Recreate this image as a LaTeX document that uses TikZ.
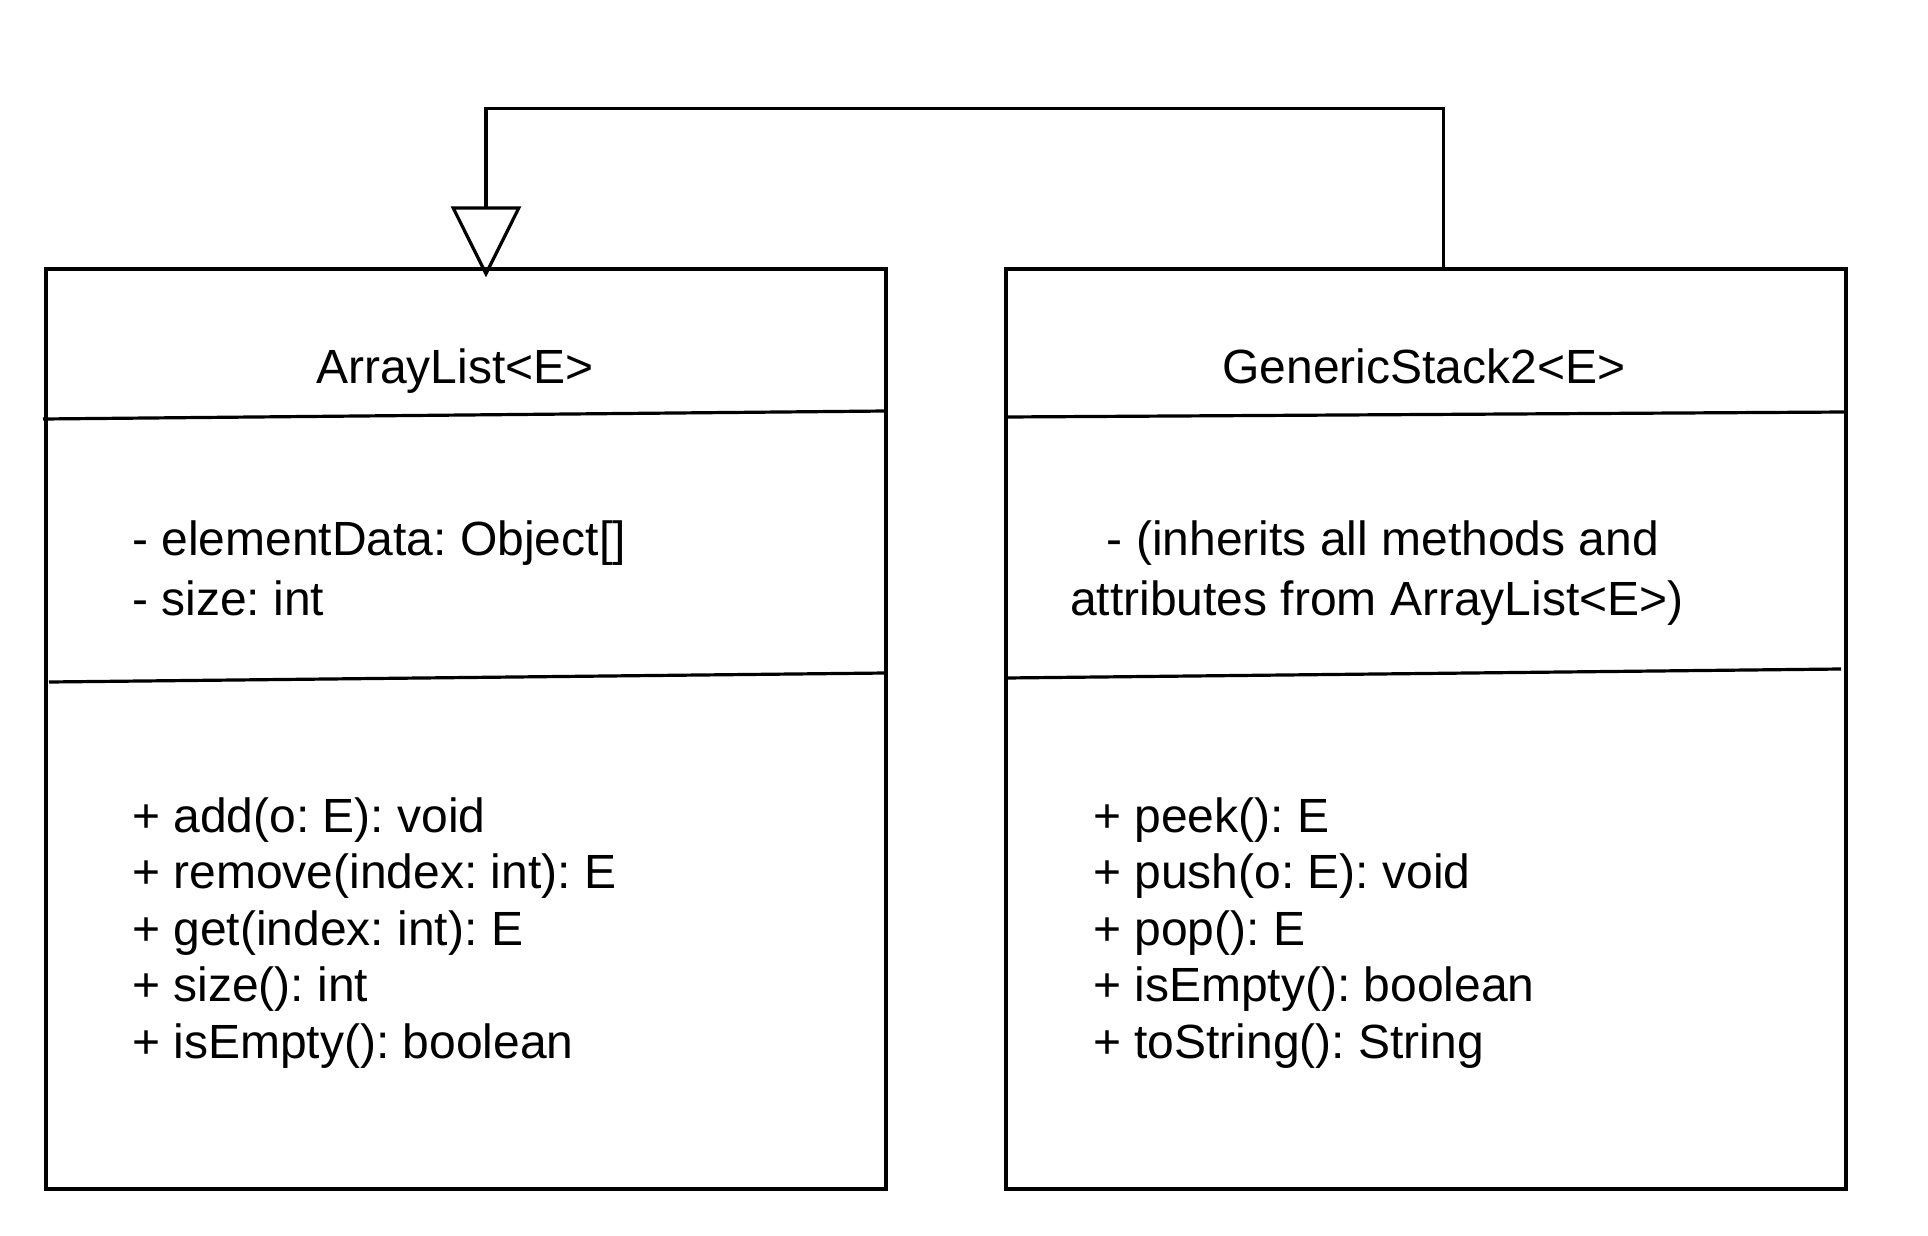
\documentclass[tikz,border=0pt]{standalone}
\usepackage{fontspec}
\setmainfont{Liberation Sans}
\usetikzlibrary{arrows.meta}
\frenchspacing

\begin{document}
\begin{tikzpicture}[x=1pt, y=-1pt,
  classbox/.style={draw, line width=3.2pt, rectangle, inner sep=0pt,
    minimum width=840pt, minimum height=920pt},
  divider/.style={line width=3.2pt},
  conn/.style={line width=3.2pt},
  lbl/.style={inner sep=0pt, font=\fontsize{48}{57}\selectfont},
  lblw/.style={lbl, anchor=base west},
  lblc/.style={lbl, anchor=base}]
  \useasboundingbox (0,0) rectangle (1928,1236);

  % class boxes
  \node[classbox] (al) at (466,729) {};
  \node[classbox] (gs) at (1426,729) {};

  % compartment separators
  \draw[divider] (43,419) -- (886,411);
  \draw[divider] (49,682) -- (886,673);
  \draw[divider] (1006,417) -- (1846,412);
  \draw[divider] (1006,678) -- (1841,669);

  % class names
  \node[lblc] (alname) at (455,383) {ArrayList<E>};
  \node[lblc] (gsname) at (1424,383) {GenericStack2<E>};

  % attributes
  \node[lblw] (ala1) at (132,555) {- elementData: Object[]};
  \node[lblw] (ala2) at (132,615) {- size: int};
  \node[lblc] (gsa1) at (1383,555) {- (inherits all methods and};
  \node[lblc] (gsa2) at (1377,615) {attributes from ArrayList<E>)};

  % operations
  \node[lblw] (alm1) at (132,832) {+ add(o: E): void};
  \node[lblw] (alm2) at (132,888) {+ remove(index: int): E};
  \node[lblw] (alm3) at (132,945) {+ get(index: int): E};
  \node[lblw] (alm4) at (132,1001) {+ size(): int};
  \node[lblw] (alm5) at (132,1058) {+ isEmpty(): boolean};

  \node[lblw] (gsm1) at (1093,832) {+ peek(): E};
  \node[lblw] (gsm2) at (1093,888) {+ push(o: E): void};
  \node[lblw] (gsm3) at (1093,945) {+ pop(): E};
  \node[lblw] (gsm4) at (1093,1001) {+ isEmpty(): boolean};
  \node[lblw] (gsm5) at (1093,1058) {+ toString(): String};

  % generalization: GenericStack2<E> extends ArrayList<E>
  \draw[conn, -{Triangle[open, length=71pt, width=70pt]}, shorten >=-10pt]
    ([xshift=439pt]gs.north west) -- ++(0,-159) -| ([xshift=20pt]al.north);
\end{tikzpicture}
\end{document}
